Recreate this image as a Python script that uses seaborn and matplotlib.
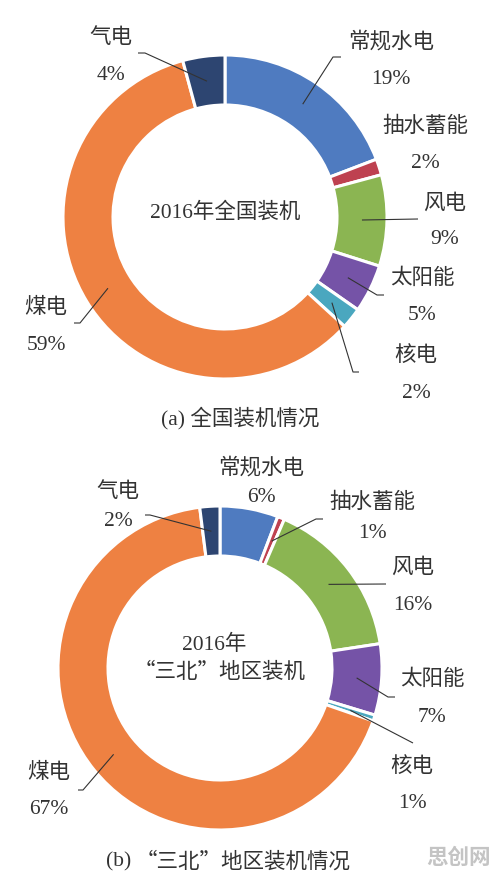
import numpy as np
import matplotlib
matplotlib.use("Agg")
import matplotlib.pyplot as plt
import seaborn as sns

# ---------------- data ----------------
categories = ["常规水电", "抽水蓄能", "风电", "太阳能", "核电", "煤电", "气电"]
values_a = [19.2, 1.6, 9.1, 4.8, 2.1, 59.0, 4.2]       # 全国
labels_a = ["19%", "2%", "9%", "5%", "2%", "59%", "4%"]
values_b = [5.8, 0.7, 16.1, 7.1, 0.6, 67.7, 2.0]       # 三北
labels_b = ["6%", "1%", "16%", "7%", "1%", "67%", "2%"]
center_text_a = "2016年全国装机"
center_text_b = ["2016年", "“三北”地区装机"]
caption_a = "(a) 全国装机情况"
caption_b = ["(b)", "“三北”地区装机情况"]

colors = ["#4F7BC0", "#BE4150", "#8BB552", "#7553A7", "#4AA7BF", "#EE8142", "#2D4571"]

sns.set_theme(style="white")
plt.rcParams["font.family"] = ["Liberation Serif", "Noto Sans CJK SC", "DejaVu Sans"]
CJK = ["Noto Sans CJK SC", "DejaVu Sans"]

W, H = 494, 876
fig = plt.figure(figsize=(W / 100, H / 100), dpi=100)
ax = fig.add_axes([0, 0, 1, 1])

def Y(y):
    return H - y

TXT = "#333333"
FS = 15.5
FW = "light"

def donut(values, cx, cy, R, width):
    wedges, _ = ax.pie(values, colors=colors, startangle=90, counterclock=False,
                       radius=R, center=(cx, Y(cy)),
                       wedgeprops=dict(width=width, edgecolor="white", linewidth=2.2))
    return wedges

def anchor(w, cx, cy, r):
    a = np.deg2rad((w.theta1 + w.theta2) / 2)
    return cx + r * np.cos(a), Y(cy) + r * np.sin(a)

def leader(w, cx, cy, r, elbow, end):
    ax0, ay0 = anchor(w, cx, cy, r)
    xs = [ax0, elbow[0], end]
    ys = [ay0, Y(elbow[1]), Y(elbow[1])]
    ax.plot(xs, ys, color="#333333", lw=0.8, solid_capstyle="butt")

def label(name, pct, x, y1, y2):
    ax.text(x, Y(y1), name, ha="center", va="center", fontsize=FS, color=TXT, fontweight=FW)
    ax.text(x, Y(y2), pct, ha="center", va="center", fontsize=FS, color=TXT)

# ---------- chart (a) ----------
cxa, cya, R, wd = 225, 217, 162, 50
wa = donut(values_a, cxa, cya, R, wd)
rm = R - wd / 2
pos_a = [(391, 42, 79), (425, 127, 164), (445, 204, 240), (422, 279, 316),
         (416, 356, 393), (46, 308, 345), (111, 38, 76)]
for name, pct, (x, y1, y2) in zip(categories, labels_a, pos_a):
    label(name, pct, x, y1, y2)
lead_a = {0: ((333, 57), 341), 2: ((418, 219), 418), 3: ((377, 295), 384),
          4: ((353, 372), 359), 5: ((80, 323), 74), 6: ((145, 53), 138)}
for i, (el, en) in lead_a.items():
    leader(wa[i], cxa, cya, rm, el, en)
ax.text(cxa, Y(213), center_text_a, ha="center", va="center", fontsize=FS, color=TXT, fontweight=FW)
ax.text(240, Y(418), caption_a, ha="center", va="center", fontsize=FS, color=TXT, fontweight=FW)

# ---------- chart (b) ----------
cxb, cyb = 220, 668
wb = donut(values_b, cxb, cyb, R, wd)
pos_b = [(261, 468, 497), (372, 503, 534), (413, 568, 605), (432, 680, 717),
         (412, 767, 803), (49, 773, 810), (118, 492, 521)]
for name, pct, (x, y1, y2) in zip(categories, labels_b, pos_b):
    label(name, pct, x, y1, y2)
lead_b = {1: ((316, 519), 323), 2: ((386, 584), 386), 3: ((388, 697), 395),
          4: ((413, 743), 413), 5: ((83, 790), 78), 6: ((150, 515), 145)}
for i, (el, en) in lead_b.items():
    leader(wb[i], cxb, cyb, rm, el, en)
ax.text(214, Y(645), center_text_b[0], ha="center", va="center", fontsize=FS, color=TXT, fontweight=FW)
ax.text(220, Y(672), center_text_b[1], ha="center", va="center", fontsize=FS, color=TXT,
        fontweight=FW, family=CJK)
ax.text(106, Y(862), caption_b[0], ha="left", va="center", fontsize=FS, color=TXT)
ax.text(136, Y(862), caption_b[1], ha="left", va="center", fontsize=FS, color=TXT,
        fontweight=FW, family=CJK)

# watermark
ax.text(458, Y(857), "思创网", ha="center", va="center", fontsize=15.5, color="#C4C4C4",
        fontweight="bold", family=CJK)

ax.set_xlim(0, W)
ax.set_ylim(0, H)
ax.set_aspect("equal")
ax.axis("off")
fig.savefig("out.png", dpi=100)
